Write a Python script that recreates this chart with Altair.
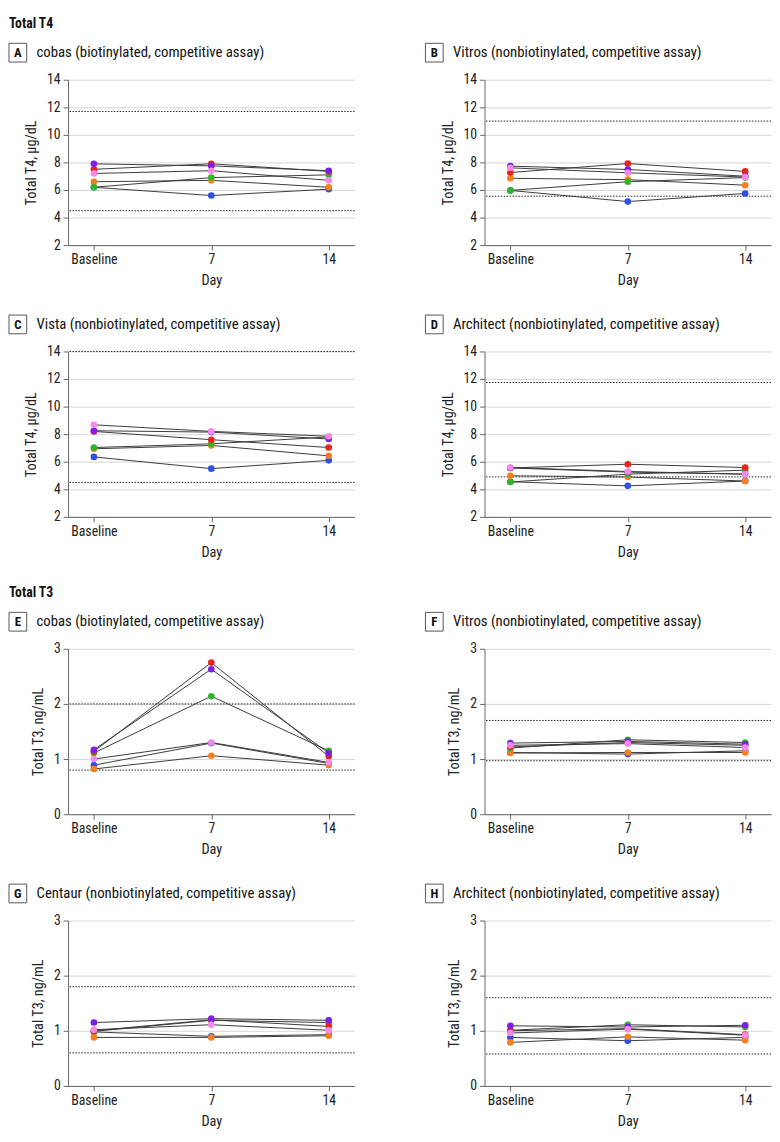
import altair as alt
import pandas as pd

FONT = "Liberation Sans Narrow, Roboto Condensed, Liberation Sans, sans-serif"

DAYS = ["Baseline", "7", "14"]
SUBJECTS = ["Participant 1", "Participant 2", "Participant 3", "Participant 4", "Participant 5", "Participant 6"]
COLORS = ["#2e4ee6", "#f47f1d", "#2fb52a", "#e8231c", "#7b1fe8", "#f58ae6"]

# values per participant: [Baseline, Day 7, Day 14]
A_VALS = [[6.2, 5.6, 6.06], [6.6, 6.7, 6.2], [6.2, 6.9, 7.1], [7.5, 7.9, 7.35], [7.9, 7.75, 7.4], [7.2, 7.4, 6.7]]
B_VALS = [[5.97, 5.16, 5.75], [6.85, 6.75, 6.35], [5.97, 6.6, 6.9], [7.27, 7.92, 7.35], [7.73, 7.49, 7.0], [7.61, 7.25, 6.94]]
C_VALS = [[6.35, 5.5, 6.1], [6.94, 7.18, 6.43], [7.03, 7.3, 7.8], [8.2, 7.6, 7.03], [8.25, 8.15, 7.65], [8.68, 8.2, 7.85]]
D_VALS = [[4.55, 4.25, 4.6], [4.98, 4.89, 4.6], [4.53, 5.1, 5.39], [5.55, 5.82, 5.58], [5.55, 5.25, 5.1], [5.58, 5.29, 5.1]]
E_VALS = [[0.89, 1.29, 0.92], [0.82, 1.06, 0.89], [1.11, 2.14, 1.15], [1.14, 2.75, 1.05], [1.17, 2.63, 1.11], [1.0, 1.30, 0.94]]
F_VALS = [[1.12, 1.09, 1.15], [1.11, 1.12, 1.12], [1.2, 1.35, 1.30], [1.22, 1.30, 1.25], [1.29, 1.32, 1.27], [1.25, 1.28, 1.21]]
G_VALS = [[0.98, 0.9, 0.93], [0.88, 0.88, 0.91], [0.99, 1.19, 1.15], [1.0, 1.2, 1.08], [1.15, 1.22, 1.19], [1.02, 1.11, 1.01]]
H_VALS = [[0.88, 0.82, 0.88], [0.79, 0.89, 0.83], [1.01, 1.11, 1.07], [1.0, 1.04, 0.93], [1.09, 1.07, 1.10], [0.96, 1.03, 0.92]]

# reference range limits (upper, lower)
A_REF = [11.7, 4.5]
B_REF = [11.0, 5.55]
C_REF = [14.0, 4.5]
D_REF = [11.75, 4.9]
E_REF = [2.0, 0.8]
F_REF = [1.7, 0.97]
G_REF = [1.8, 0.6]
H_REF = [1.6, 0.58]

T4_TICKS = [2, 4, 6, 8, 10, 12, 14]
T3_TICKS = [0, 1, 2, 3]
T4_TITLE = "Total T4, μg/dL"
T3_TITLE = "Total T3, ng/mL"

W = 291
H = 168


def panel(letter, title, vals, refs, ytitle, ticks, header=None):
    rows = []
    for s, v in zip(SUBJECTS, vals):
        for d, x in zip(DAYS, v):
            rows.append({"subject": s, "day": d, "val": x})
    df = pd.DataFrame(rows)
    ref_df = pd.DataFrame({"val": refs})
    one = pd.DataFrame({"k": [0]})

    xenc = alt.X("day:N", sort=DAYS, scale=alt.Scale(type="point", padding=0.22),
                 axis=alt.Axis(title="Day", labelAngle=0, grid=False, tickSize=5,
                               labelPadding=3, titlePadding=7))
    yenc = alt.Y("val:Q", scale=alt.Scale(domain=[ticks[0], ticks[-1]], nice=False, zero=False),
                 axis=alt.Axis(title=ytitle, values=ticks, grid=True, gridColor="#d6d6d6",
                               tickSize=5, labelPadding=3, titlePadding=8))

    refs_l = alt.Chart(ref_df).mark_rule(color="#222", strokeDash=[1.5, 1.5], strokeWidth=1).encode(y=yenc)
    lines = alt.Chart(df).mark_line(color="#3a3a3a", strokeWidth=1).encode(
        x=xenc, y=yenc, detail="subject:N")
    pts = alt.Chart(df).mark_circle(size=45, opacity=1).encode(
        x=xenc, y=yenc,
        color=alt.Color("subject:N", scale=alt.Scale(domain=SUBJECTS, range=COLORS), legend=None))
    box = alt.Chart(one).mark_rect(fill="white", stroke="#555", strokeWidth=1).encode(
        x=alt.value(-60), x2=alt.value(-42), y=alt.value(-37), y2=alt.value(-18))
    let = alt.Chart(one).mark_text(fontWeight="bold", fontSize=13, font=FONT, color="#111",
                                   align="center", baseline="middle").encode(
        x=alt.value(-51), y=alt.value(-27), text=alt.value(letter))
    ttl = alt.Chart(one).mark_text(fontSize=15, font=FONT, color="#111",
                                   align="left", baseline="middle").encode(
        x=alt.value(-32), y=alt.value(-28), text=alt.value(title))
    layers = [refs_l, lines, pts, box, let, ttl]
    if header:
        hdr = alt.Chart(one).mark_text(fontSize=14, fontWeight="bold", font=FONT, color="#111",
                                       align="left", baseline="middle").encode(
            x=alt.value(-60), y=alt.value(-57), text=alt.value(header))
        layers.append(hdr)
    return alt.layer(*layers).properties(width=W, height=H)


pA = panel("A", "cobas (biotinylated, competitive assay)", A_VALS, A_REF, T4_TITLE, T4_TICKS, "Total T4")
pB = panel("B", "Vitros (nonbiotinylated, competitive assay)", B_VALS, B_REF, T4_TITLE, T4_TICKS)
pC = panel("C", "Vista (nonbiotinylated, competitive assay)", C_VALS, C_REF, T4_TITLE, T4_TICKS)
pD = panel("D", "Architect (nonbiotinylated, competitive assay)", D_VALS, D_REF, T4_TITLE, T4_TICKS)
pE = panel("E", "cobas (biotinylated, competitive assay)", E_VALS, E_REF, T3_TITLE, T3_TICKS, "Total T3")
pF = panel("F", "Vitros (nonbiotinylated, competitive assay)", F_VALS, F_REF, T3_TITLE, T3_TICKS)
pG = panel("G", "Centaur (nonbiotinylated, competitive assay)", G_VALS, G_REF, T3_TITLE, T3_TICKS)
pH = panel("H", "Architect (nonbiotinylated, competitive assay)", H_VALS, H_REF, T3_TITLE, T3_TICKS)

chart = alt.vconcat(
    alt.hconcat(pA, pB, spacing=70),
    alt.hconcat(pC, pD, spacing=70),
    alt.hconcat(pE, pF, spacing=70),
    alt.hconcat(pG, pH, spacing=70),
    spacing=27,
).configure(padding=0).configure_view(stroke=None).configure_axis(
    labelFont=FONT, titleFont=FONT, labelFontSize=14, titleFontSize=14.5,
    titleFontWeight="normal", labelColor="#222", titleColor="#222",
    domainColor="#666", tickColor="#666",
)

chart.save("out.html", embed_options={"renderer": "svg", "actions": False})
